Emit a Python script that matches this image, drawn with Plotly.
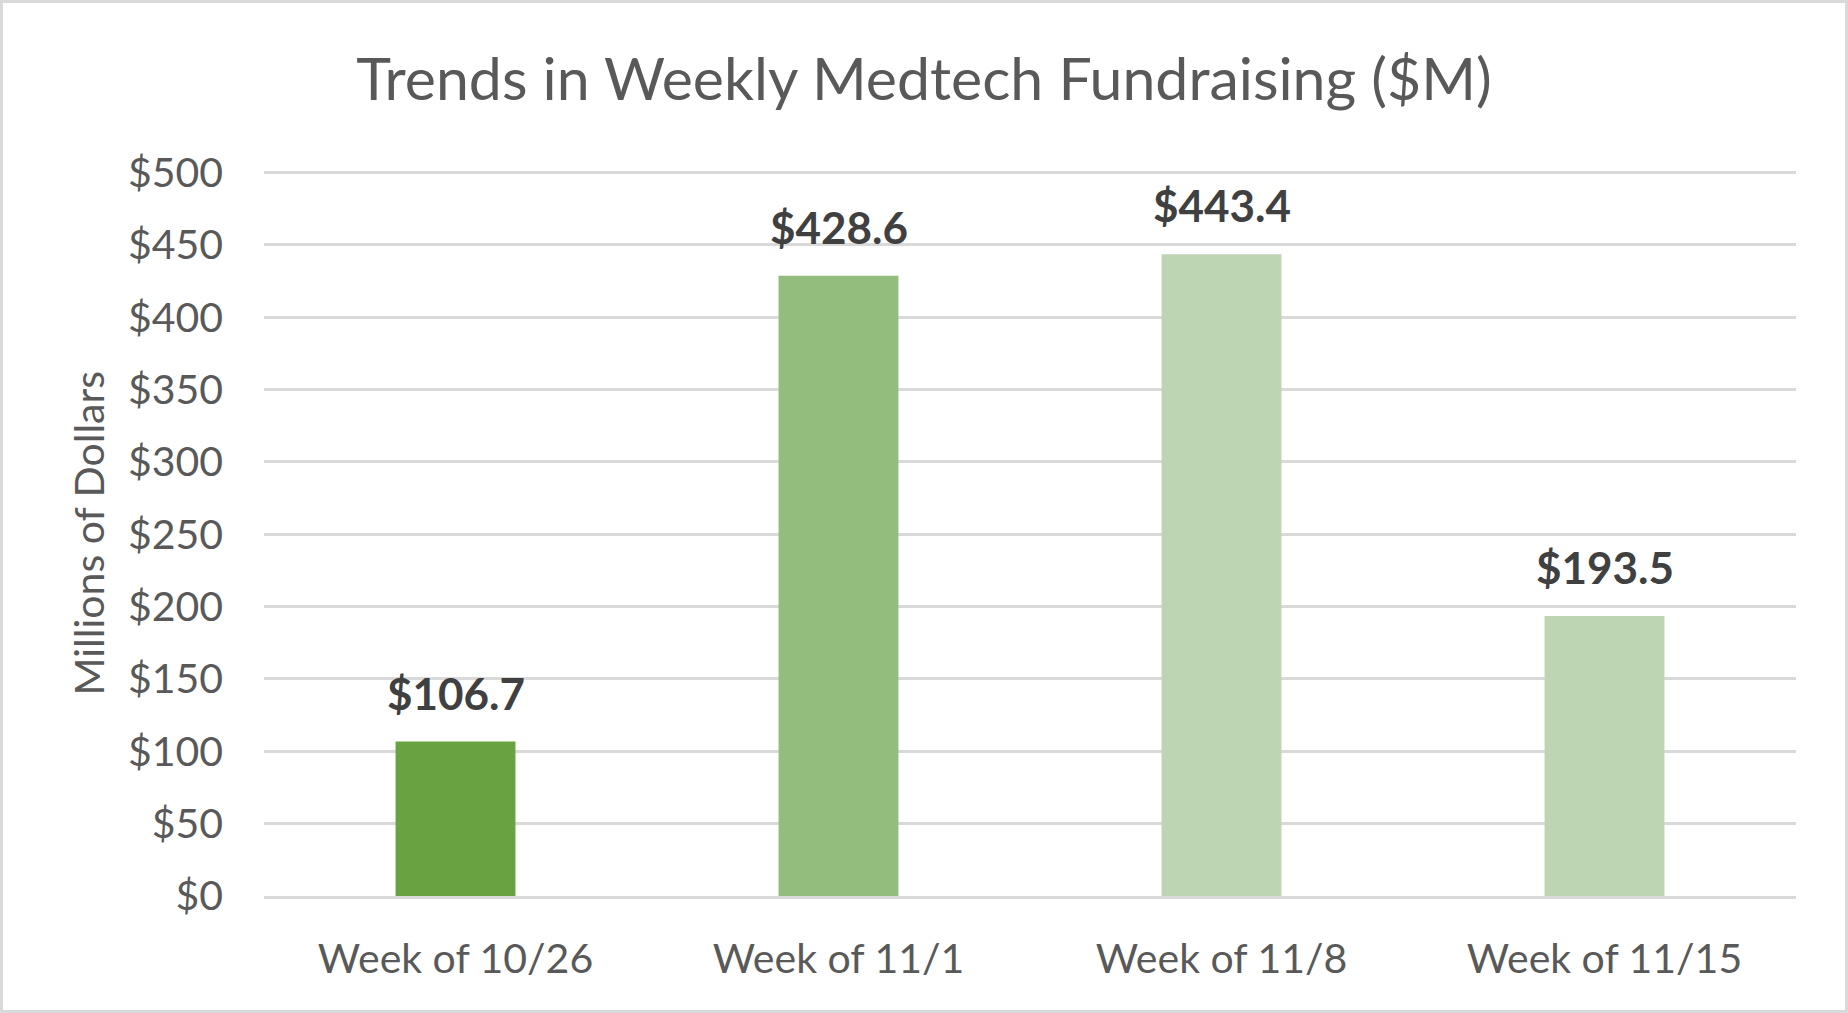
import plotly.graph_objects as go

categories = ["Week of 10/26", "Week of 11/1", "Week of 11/8", "Week of 11/15"]
values = [106.7, 428.6, 443.4, 193.5]
bar_colors = ["#69A341", "#93BD7D", "#BDD5B2", "#BDD5B2"]
tick_vals = [0, 50, 100, 150, 200, 250, 300, 350, 400, 450, 500]
tick_text = ["$" + str(v) for v in tick_vals]

W, H = 1848, 1013
ML, MR, MT, MB = 264, 52, 171, 117
PW, PH = W - ML - MR, H - MT - MB

FONT = "Lato, 'Open Sans', sans-serif"
GREY = "#595959"

fig = go.Figure()
fig.add_trace(go.Bar(
    x=categories, y=values, marker=dict(color=bar_colors, line=dict(width=0)),
    width=0.313, hoverinfo="x+y",
))

for c, v in zip(categories, values):
    fig.add_annotation(
        x=c, y=v, xref="x", yref="y", text="<b>$%.1f</b>" % v,
        showarrow=False, yanchor="middle", yshift=49,
        font=dict(family=FONT, size=44, color="#404040"),
    )

# y axis title
fig.add_annotation(
    x=-(ML - 88) / PW, y=0.5, xref="paper", yref="paper",
    text="Millions of Dollars", textangle=-90, showarrow=False,
    xanchor="center", yanchor="middle",
    font=dict(family=FONT, size=41, color=GREY),
)

# outer border
fig.add_shape(
    type="rect", xref="paper", yref="paper",
    x0=-(ML - 1.5) / PW, x1=1 + (MR - 1.5) / PW,
    y0=-(MB - 1.5) / PH, y1=1 + (MT - 1.5) / PH,
    line=dict(color="#D9D9D9", width=3), layer="below",
)

fig.update_layout(
    width=W, height=H,
    margin=dict(l=ML, r=MR, t=MT, b=MB, pad=0),
    paper_bgcolor="white", plot_bgcolor="white",
    showlegend=False,
    title=dict(
        text="Trends in Weekly Medtech Fundraising ($M)",
        x=0.5, xref="container", xanchor="center",
        y=1 - 79 / H, yref="container", yanchor="middle",
        font=dict(family=FONT, size=59, color=GREY),
    ),
    font=dict(family=FONT, color=GREY),
)
fig.update_yaxes(
    range=[0, 501], tickvals=tick_vals, ticktext=tick_text,
    showgrid=True, gridcolor="#D9D9D9", gridwidth=2.5,
    zeroline=False, showline=False,
    tickfont=dict(family=FONT, size=41, color=GREY),
    ticklabelstandoff=40, fixedrange=True,
)
fig.update_xaxes(
    showgrid=False, showline=True, linecolor="#D9D9D9", linewidth=2.5,
    tickfont=dict(family=FONT, size=41, color=GREY),
    ticklabelstandoff=25, fixedrange=True,
)

fig.write_html(
    "out.html",
    config={"displayModeBar": False},
    post_script="document.body.style.margin='0';document.body.style.overflow='hidden';",
)
